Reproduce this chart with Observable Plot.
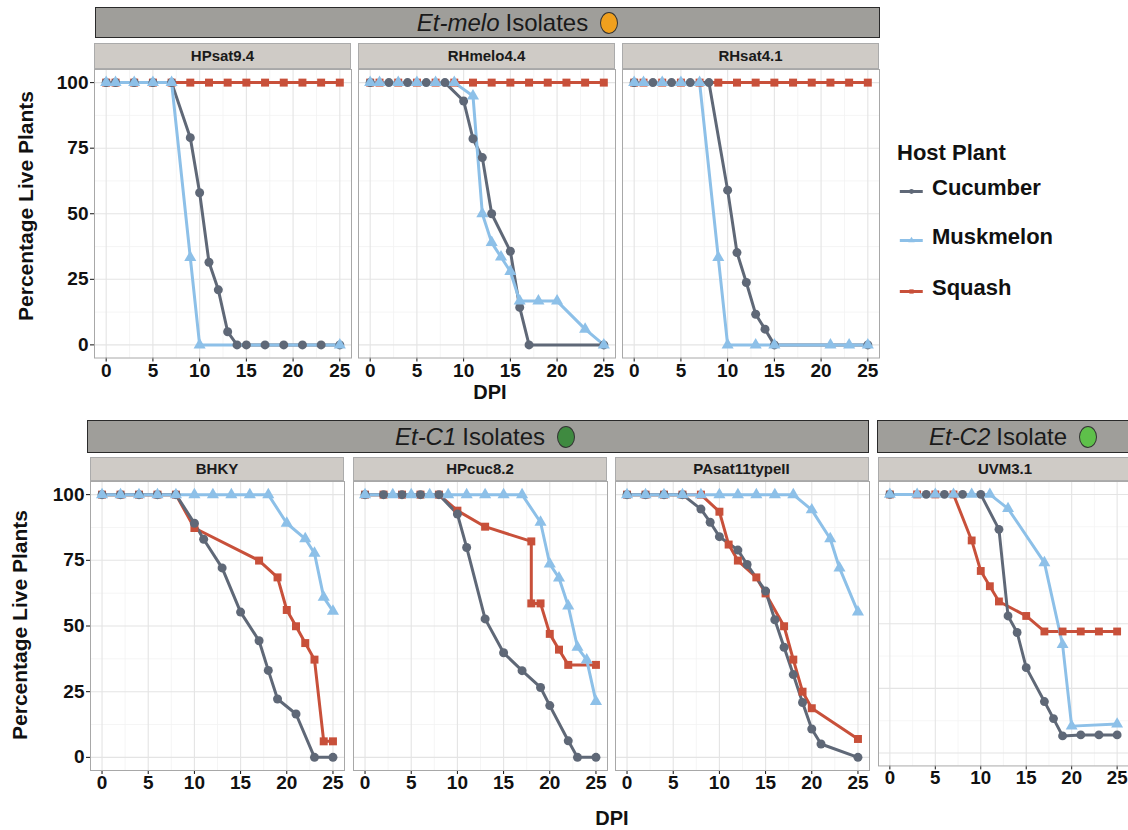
<!DOCTYPE html>
<html><head><meta charset="utf-8">
<script src="https://cdn.jsdelivr.net/npm/d3@7"></script>
<script src="https://cdn.jsdelivr.net/npm/@observablehq/plot@0.6"></script>
<style>
body{margin:0;background:#fff;font-family:"Liberation Sans",Arial,Helvetica,sans-serif;}
#root{position:relative;width:1128px;height:830px;overflow:hidden;background:#fff;}
.hdr{position:absolute;background:#9f9e9a;border:1.5px solid #2a2a2a;box-sizing:border-box;display:flex;align-items:center;justify-content:center;font-size:24px;color:#1a1a1a;white-space:nowrap;}
.hdr i{margin-right:6px}
.dotc{display:inline-block;width:18px;height:22px;border-radius:50%;border:1.3px solid #333;margin-left:12px;box-sizing:border-box}
.strip{position:absolute;background:#cfcbc6;border:1px solid #ababab;box-sizing:border-box;display:flex;align-items:center;justify-content:center;font-weight:bold;font-size:15px;color:#1a1a1a;white-space:nowrap;}
.panel{position:absolute}
.panel svg{overflow:visible}
.ttl{position:absolute;font-weight:bold;color:#111;white-space:nowrap;transform:translate(-50%,-50%);}
.ytl{transform:translate(-50%,-50%) rotate(-90deg);font-size:21px}
.leg{position:absolute;font-weight:bold;font-size:22px;color:#111;white-space:nowrap;display:flex;align-items:center}
</style></head>
<body><div id="root"></div>
<script>
// ---- categories ----
const hosts = ["Cucumber", "Muskmelon", "Squash"];
const hostColors = ["#5f6877", "#8dc0e8", "#c8503a"];
const hostSymbols = ["circle", "triangle", "square"];
const drawOrder = ["Squash", "Cucumber", "Muskmelon"];
const topIsolates = ["HPsat9.4", "RHmelo4.4", "RHsat4.1"];
const bottomIsolates = ["BHKY", "HPcuc8.2", "PAsat11typeII", "UVM3.1"];
const xTicks = [0, 5, 10, 15, 20, 25];
const xMinor = [2.5, 7.5, 12.5, 17.5, 22.5];
const yTicks = [0, 25, 50, 75, 100];
const yMinor = [12.5, 37.5, 62.5, 87.5];

// ---- series: [DPI, percentage live plants] ----
const HPsat94_Cucumber = [[0,100],[1,100],[3,100],[5,100],[7,100],[9,79],[10,58],[11,31.5],[12,21],[13,5],[14,0],[15,0],[17,0],[19,0],[21,0],[23,0],[25,0]];
const HPsat94_Muskmelon = [[0,100],[1,100],[3,100],[5,100],[7,100],[9,33.3],[10,0],[25,0]];
const HPsat94_Squash = [[0,100],[1,100],[3,100],[5,100],[7,100],[9,100],[11,100],[13,100],[15,100],[17,100],[19,100],[21,100],[23,100],[25,100]];

const RHmelo44_Cucumber = [[0,100],[2,100],[4,100],[6,100],[8,100],[10,93],[11,78.6],[12,71.4],[13,50],[15,35.7],[16,14.3],[17,0],[25,0]];
const RHmelo44_Muskmelon = [[0,100],[1,100],[3,100],[5,100],[7,100],[9,100],[11,94.9],[12,50],[13,39],[14,33.5],[15,28],[16,16.7],[18,16.7],[20,16.7],[23,6],[25,0]];
const RHmelo44_Squash = [[0,100],[1,100],[3,100],[5,100],[7,100],[9,100],[11,100],[13,100],[15,100],[17,100],[19,100],[21,100],[23,100],[25,100]];

const RHsat41_Cucumber = [[0,100],[2,100],[4,100],[6,100],[8,100],[10,59],[11,35.2],[12,23.8],[13,11.7],[14,6],[15,0],[25,0]];
const RHsat41_Muskmelon = [[0,100],[1,100],[3,100],[5,100],[7,100],[9,33.3],[10,0],[13,0],[15,0],[21,0],[23,0],[25,0]];
const RHsat41_Squash = [[0,100],[1,100],[3,100],[5,100],[7,100],[9,100],[11,100],[13,100],[15,100],[17,100],[19,100],[21,100],[23,100],[25,100]];

const BHKY_Cucumber = [[0,100],[2,100],[4,100],[6,100],[8,100],[10,89.1],[11,83],[13,72.1],[15,55.3],[17,44.4],[18,33.1],[19,22.2],[21,16.5],[23,0],[25,0]];
const BHKY_Muskmelon = [[0,100],[2,100],[4,100],[6,100],[8,100],[10,100],[12,100],[14,100],[16,100],[18,100],[20,89.1],[22,83.2],[23,77.7],[24,60.9],[25,55.6]];
const BHKY_Squash = [[0,100],[2,100],[4,100],[6,100],[8,100],[10,87.3],[17,74.9],[19,68.5],[20,56.1],[21,49.9],[22,43.5],[23,37.2],[24,6.1],[25,6.1]];

const HPcuc82_Cucumber = [[0,100],[2,100],[4,100],[6,100],[8,100],[10,92.6],[11,79.9],[13,52.7],[15,39.8],[17,33],[19,26.6],[20,19.7],[22,6.3],[23,0],[25,0]];
const HPcuc82_Muskmelon = [[0,100],[3,100],[5,100],[7,100],[9,100],[11,100],[13,100],[15,100],[17,100],[19,89.5],[20,73.6],[21,68.3],[22,57.6],[23,41.9],[24,37.1],[25,21.3]];
const HPcuc82_Squash = [[0,100],[2,100],[4,100],[6,100],[8,100],[10,93.9],[13,87.8],[18,82.2],[18,58.6],[19,58.6],[20,47],[21,41],[22,35.2],[25,35.2]];

const PAsat11_Cucumber = [[0,100],[2,100],[4,100],[6,100],[8,94.5],[9,89.5],[10,84],[12,78.9],[13,73.4],[15,63.3],[16,52.4],[17,41.9],[18,31.5],[19,20.9],[20,10.8],[21,5.1],[25,0]];
const PAsat11_Muskmelon = [[0,100],[2,100],[4,100],[6,100],[8,100],[10,100],[12,100],[14,100],[16,100],[18,100],[20,94.2],[22,83.2],[23,72.1],[25,55.3]];
const PAsat11_Squash = [[0,100],[2,100],[4,100],[6,100],[8,100],[10,93.5],[11,81],[12,74.9],[14,68.5],[15,62.4],[17,49.9],[18,37.2],[19,25],[20,18.7],[25,7]];

const UVM31_Cucumber = [[0,100],[4,100],[6,100],[8,100],[10,100],[12,86.5],[13,53],[14,46.6],[15,33],[17,19.9],[18,13.3],[19,6.6],[21,7],[23,7],[25,7]];
const UVM31_Muskmelon = [[0,100],[3,100],[5,100],[7,100],[9,100],[11,100],[13,94.5],[17,73.6],[19,41.9],[20,10.4],[25,11.2]];
const UVM31_Squash = [[0,100],[3,100],[5,100],[7,100],[9,82.2],[10,70.4],[11,64.5],[12,58.6],[15,53],[17,47],[19,47],[21,47],[23,47],[25,47]];

const series = {
  "HPsat9.4": {Cucumber: HPsat94_Cucumber, Muskmelon: HPsat94_Muskmelon, Squash: HPsat94_Squash},
  "RHmelo4.4": {Cucumber: RHmelo44_Cucumber, Muskmelon: RHmelo44_Muskmelon, Squash: RHmelo44_Squash},
  "RHsat4.1": {Cucumber: RHsat41_Cucumber, Muskmelon: RHsat41_Muskmelon, Squash: RHsat41_Squash},
  "BHKY": {Cucumber: BHKY_Cucumber, Muskmelon: BHKY_Muskmelon, Squash: BHKY_Squash},
  "HPcuc8.2": {Cucumber: HPcuc82_Cucumber, Muskmelon: HPcuc82_Muskmelon, Squash: HPcuc82_Squash},
  "PAsat11typeII": {Cucumber: PAsat11_Cucumber, Muskmelon: PAsat11_Muskmelon, Squash: PAsat11_Squash},
  "UVM3.1": {Cucumber: UVM31_Cucumber, Muskmelon: UVM31_Muskmelon, Squash: UVM31_Squash}
};

// ---- layout (pixels) ----
const FONT = '"Liberation Sans", Arial, Helvetica, sans-serif';
const rows = [
  {isolates: topIsolates, top: 68.5, h: 288.5, w: 257, lefts: [94, 358, 622], stripTop: 43, stripH: 25.5,
   groups: [{label: ["Et-melo", " Isolates"], color: "#f0a01e", left: 95, width: 785, pad: 60}],
   hdrTop: 7, hdrH: 31, ytitle: [26, 206], xtitle: [490, 392]},
  {isolates: bottomIsolates, top: 481, h: 289, w: 254, lefts: [90, 353, 614.5, 878], stripTop: 456.5, stripH: 24.5,
   groups: [{label: ["Et-C1", " Isolates"], color: "#3f8a40", left: 87, width: 782, pad: 14}, {label: ["Et-C2", " Isolate"], color: "#5ec04a", left: 877, width: 262, pad: 10}],
   hdrTop: 420, hdrH: 33, ytitle: [20, 625], xtitle: [612, 818]}
];

const root = document.getElementById("root");
function el(tag, cls, css, html) {
  const e = document.createElement(tag);
  if (cls) e.className = cls;
  Object.assign(e.style, css || {});
  if (html != null) e.innerHTML = html;
  root.appendChild(e);
  return e;
}

function panel(iso, W, H, showY) {
  const ml = showY ? 60 : 0, mb = 34;
  const data = [];
  for (const h of drawOrder) for (const [d, p] of series[iso][h]) data.push({day: d, pct: p, host: h});
  return {ml, svg: Plot.plot({
    width: W + ml, height: H + mb,
    marginLeft: ml, marginRight: 0, marginTop: 0, marginBottom: mb,
    x: {domain: [-1.25, 26.25], ticks: xTicks, tickSize: 4, tickPadding: 1, label: null, tickFormat: d => String(d)},
    y: {domain: [-5, 105], ticks: yTicks, tickSize: 4, tickPadding: 2, label: null, axis: showY ? "left" : null, tickFormat: d => String(d)},
    color: {domain: hosts, range: hostColors},
    symbol: {domain: hosts, range: hostSymbols},
    style: {fontFamily: FONT, fontSize: "19px", fontWeight: "bold", color: "#111", background: "transparent", overflow: "visible"},
    marks: [
      Plot.ruleX(xMinor, {stroke: "#f3f3f3", strokeWidth: 0.8}),
      Plot.ruleY(yMinor, {stroke: "#f3f3f3", strokeWidth: 0.8}),
      Plot.ruleX(xTicks, {stroke: "#e4e4e4", strokeWidth: 1.1}),
      Plot.ruleY(yTicks, {stroke: "#e4e4e4", strokeWidth: 1.1}),
      Plot.frame({stroke: "#a8a8a8", strokeWidth: 1}),
      Plot.line(data, {x: "day", y: "pct", z: "host", stroke: "host", strokeWidth: 3, strokeLinejoin: "round"}),
      Plot.dot(data, {x: "day", y: "pct", fill: "host", symbol: "host", r: 4.5, stroke: "none"})
    ]
  })};
}

for (const r of rows) {
  for (const g of r.groups) {
    el("div", "hdr", {left: g.left + "px", top: r.hdrTop + "px", width: g.width + "px", height: r.hdrH + "px", paddingLeft: g.pad + "px"},
      `<i>${g.label[0]}</i>${g.label[1].trim()}<span class="dotc" style="background:${g.color}"></span>`);
  }
  r.isolates.forEach((iso, k) => {
    const left = r.lefts[k];
    el("div", "strip", {left: left + "px", top: r.stripTop + "px", width: r.w + "px", height: r.stripH + "px"}, iso);
    const {ml, svg} = panel(iso, r.w, r.h, k === 0);
    const box = el("div", "panel", {left: (left - ml) + "px", top: r.top + "px"});
    box.appendChild(svg);
  });
  el("div", "ttl ytl", {left: r.ytitle[0] + "px", top: r.ytitle[1] + "px"}, "Percentage Live Plants");
  el("div", "ttl", {left: r.xtitle[0] + "px", top: r.xtitle[1] + "px", fontSize: "20px"}, "DPI");
}

// ---- legend ----
el("div", "leg", {left: "897px", top: "140px"}, "Host Plant");
const legY = [188, 237, 288];
hosts.forEach((h, i) => {
  const key = Plot.plot({
    width: 28, height: 20, margin: 0,
    x: {domain: [0, 1], axis: null}, y: {domain: [0, 1], axis: null},
    color: {domain: hosts, range: hostColors}, symbol: {domain: hosts, range: hostSymbols},
    style: {background: "transparent", overflow: "visible"},
    marks: [
      Plot.ruleY([{host: h}], {y: 0.5, x1: 0.1, x2: 0.92, stroke: "host", strokeWidth: 3}),
      Plot.dot([{host: h}], {x: 0.5, y: 0.5, fill: "host", symbol: "host", r: 2.4})
    ]
  });
  const row = el("div", "leg", {left: "897px", top: (legY[i] - 13) + "px", height: "26px"});
  key.style.marginRight = "7px";
  key.style.marginTop = "6px";
  row.appendChild(key);
  const t = document.createElement("span");
  t.textContent = h;
  row.appendChild(t);
});
</script></body></html>
